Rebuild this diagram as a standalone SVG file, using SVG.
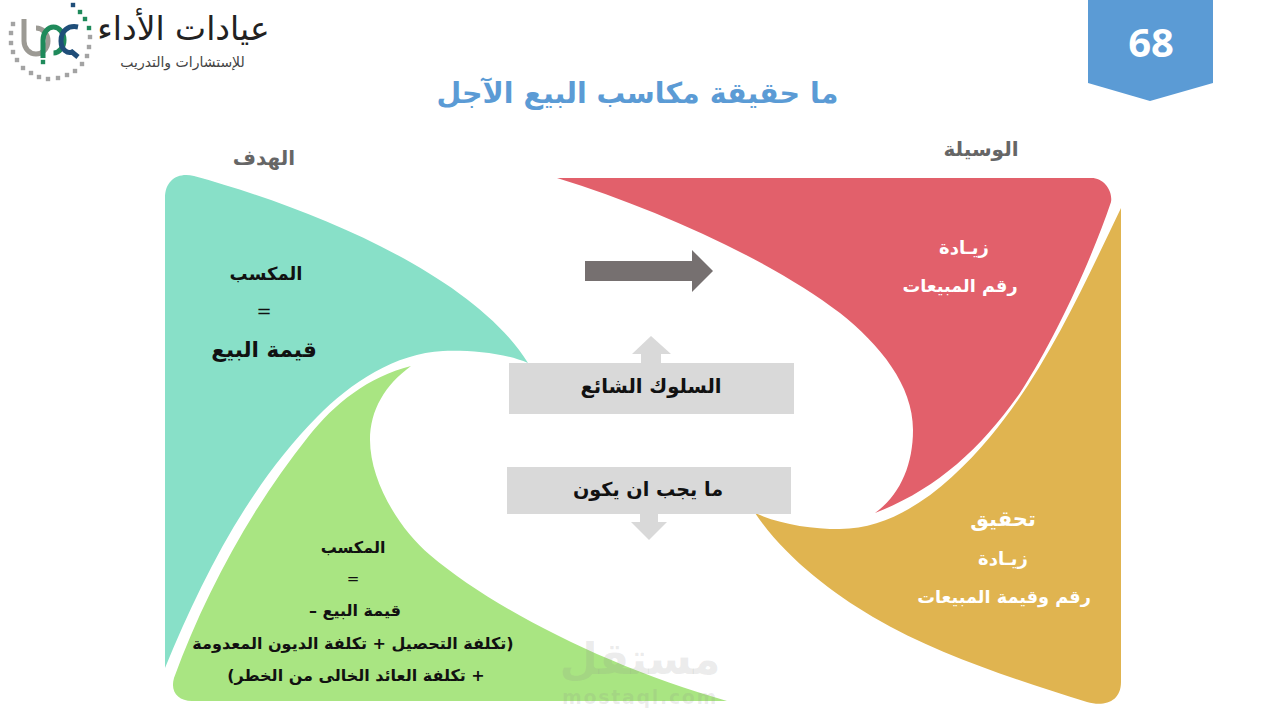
<svg xmlns="http://www.w3.org/2000/svg" width="1280" height="720" viewBox="0 0 1280 720">
<style>
text{font-family:"DejaVu Sans","Noto Sans",sans-serif;text-anchor:middle;direction:rtl}
.b{font-weight:bold;fill:#111}
.w{font-weight:bold;fill:#fff}
.h{font-weight:bold;fill:#666}
.ring{fill:none;stroke-width:5}
</style>
<defs><rect id="dot" x="-2.2" y="-2.2" width="4.4" height="4.4"/></defs>
<rect width="1280" height="720" fill="#fff"/>
<g id="logo">
<g fill="#a3a3a3">
<use href="#dot" x="13" y="24"/><use href="#dot" x="11" y="33"/><use href="#dot" x="11" y="43"/><use href="#dot" x="13" y="52"/><use href="#dot" x="17" y="60"/><use href="#dot" x="23" y="68"/><use href="#dot" x="31" y="73"/><use href="#dot" x="39" y="77"/><use href="#dot" x="48" y="79"/><use href="#dot" x="58" y="78"/><use href="#dot" x="67" y="75"/><use href="#dot" x="75" y="71"/><use href="#dot" x="82" y="64"/><use href="#dot" x="87" y="56"/><use href="#dot" x="89" y="47"/><use href="#dot" x="90" y="37"/>
</g>
<g fill="#1f8a5b"><use href="#dot" x="89" y="28"/><use href="#dot" x="85" y="19"/><use href="#dot" x="80" y="12"/><use href="#dot" x="43" y="62"/></g>
<use href="#dot" x="73" y="5" fill="#1f4e79"/>
<path class="ring" d="M24 19V41A12 13 0 1 0 36 28" stroke="#9c9a94"/>
<path class="ring" d="M43 58V40A10.500 13 0 1 1 53.500 53" stroke="#1f8a5b"/>
<path class="ring" d="M78 27C68 25 61 31 61 41C61 50 68 54 72 52L78 57" stroke="#1f4e79"/>
<text x="183.500" y="40" font-size="33" fill="#222">عيادات الأداء</text>
<text x="182.500" y="67" font-size="14" fill="#444">للإستشارات والتدريب</text>
</g>
<g id="badge">
<path d="M1088 0H1213V83L1150 101L1088 83Z" fill="#5b9bd5"/>
<text x="1151" y="57" font-size="40" font-weight="bold" fill="#fff" style="font-family:'Open Sans','Noto Sans',sans-serif">68</text>
</g>
<text id="title" x="637.500" y="103" font-size="28.500" font-weight="bold" fill="#5b9bd5">ما حقيقة مكاسب البيع الآجل</text>
<text x="264" y="165" font-size="20" class="h">الهدف</text>
<text x="981" y="156" font-size="20" class="h">الوسيلة</text>
<g id="teal">
<path d="M165 668V198C165 180 178 172 194 176C300 205 470 270 528 363C505 353 470 350 443 351C396 353 350 383 317 417C248 487 202 578 165 668Z" fill="#88e0c8"/>
<text x="266" y="280" font-size="18" class="b">المكسب</text>
<text x="264" y="317" font-size="18" fill="#111">=</text>
<text x="264" y="357" font-size="21.500" class="b">قيمة البيع</text>
</g>
<g id="green">
<path d="M411 366C385 385 370 410 370 440C370 480 398 528 430 555C495 610 610 668 727 701H192C178 701 170 692 174 678C205 593 252 507 308 437C335 403 368 377 411 366Z" fill="#a9e582"/>
<text x="353" y="553" font-size="16" class="b">المكسب</text>
<text x="353" y="584" font-size="15" fill="#111">=</text>
<text x="355" y="616" font-size="16" class="b">قيمة البيع –</text>
<text x="353" y="649" font-size="16" class="b">(تكلفة التحصيل + تكلفة الديون المعدومة</text>
<text x="356" y="681" font-size="16" class="b">+ تكلفة العائد الخالى من الخطر)</text>
</g>
<g id="red">
<path d="M557 178H1090C1103 177 1113 190 1111 202C1092 258 1056 338 1020 393C980 450 935 490 875 513C900 495 913 465 913 430C913 385 880 345 840 313C770 260 660 210 557 178Z" fill="#e2606b"/>
<text x="964" y="254" font-size="18" class="w">زيـادة</text>
<text x="960" y="292" font-size="17.700" class="w">رقم المبيعات</text>
</g>
<g id="gold">
<path d="M1121 208C1083 287 1046 370 990 437C952 482 900 529 840 529C810 529 780 524 755 513C784 556 829 591 873 617C938 655 1014 679 1087 702C1104 707 1121 702 1121 682Z" fill="#e0b450"/>
<text x="1003" y="526" font-size="21" class="w">تحقيق</text>
<text x="1003" y="565" font-size="18" class="w">زيـادة</text>
<text x="1004" y="603" font-size="17.700" class="w">رقم وقيمة المبيعات</text>
</g>
<g id="connectors">
<path d="M585 261H692V250L713 271L692 292V281H585Z" fill="#767070"/>
<path d="M641 363V354H632L651 336L671 354H661V363Z" fill="#d9d9d9"/>
<path d="M640 514V522H631L649 540L667 522H658V514Z" fill="#d9d9d9"/>
</g>
<g id="box1"><rect x="509" y="363" width="285" height="51" fill="#d9d9d9"/><text x="651" y="393" font-size="19.600" class="b">السلوك الشائع</text></g>
<g id="box2"><rect x="507" y="467" width="284" height="47" fill="#d9d9d9"/><text x="648" y="496" font-size="19.200" class="b">ما يجب ان يكون</text></g>
<g id="watermark" fill="#8a8a8a" fill-opacity="0.16"><text x="640" y="674" font-size="44" font-weight="bold">مستقل</text><text x="640" y="704" font-size="19" font-weight="bold" letter-spacing="1.700" style="direction:ltr">mostaql.com</text></g>
</svg>
